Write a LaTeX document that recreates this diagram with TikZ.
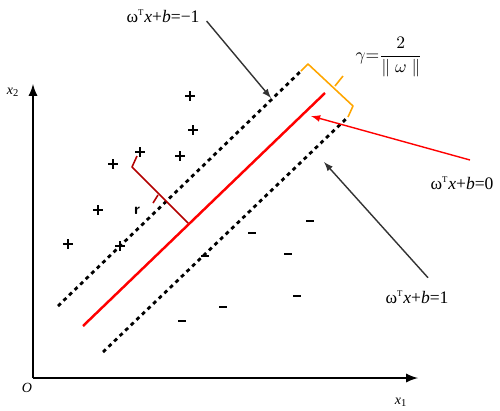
\documentclass[tikz,border=0pt]{standalone}
\usepackage{fontspec}
\setmainfont{Liberation Serif}
\begin{document}
\begin{tikzpicture}[x=0.02cm,y=-0.02cm,
  margin/.style={line width=1.6pt,dash pattern=on 2.2pt off 2.2pt},
  lbl/.style={font=\normalsize,inner sep=1pt},
  brace/.style={line width=0.9pt,line join=round}]
  \useasboundingbox (0,0) rectangle (500,410);
  % axes
  \coordinate (o) at (33,378);
  \draw[line width=1.3pt,-latex] (o) -- (418,378) coordinate (x1end);
  \draw[line width=1.3pt,-latex] (o) -- (33,84) coordinate (x2end);
  \node[lbl,font=\footnotesize] (olbl) at (27,388) {\textit{O}};
  \node[lbl,font=\footnotesize] (x2lbl) at (13,92) {\textit{x}\textsubscript{2}};
  \node[lbl,font=\footnotesize] (x1lbl) at (401,402) {\textit{x}\textsubscript{1}};
  % hyperplane and margins
  \draw[margin] (58,306) coordinate (ma) -- (301,71) coordinate (mb);
  \draw[red,line width=1.4pt] (83,326) coordinate (ha) -- (325,93) coordinate (hb);
  \draw[margin] (103,352) coordinate (pa) -- (348,117) coordinate (pb);
  % samples
  \foreach \px/\py in {190/96,193/130,140/152,180/156,113/164,98/210,68/244,120/246}
    \draw[line width=1.1pt] (\px-5,\py) -- (\px+5,\py) (\px,\py-5) -- (\px,\py+5);
  \foreach \px/\py in {310/221,252/233,288/254,205/256,297/296,223/307,182/321}
    \draw[line width=0.8pt] (\px-4,\py) -- (\px+4,\py);
  % distance r
  \draw[brace,red!70!black] (137,156) -- (132,167) -- (188,223);
  \draw[brace,red!70!black] (158,195) -- (153,203);
  \node[font=\small\bfseries\sffamily,inner sep=0pt] (rlbl) at (137,211) {r};
  % margin width
  \draw[brace,orange!70!yellow] (mb) -- (308,64) -- (353,106) -- (pb);
  \draw[brace,orange!70!yellow] (335,86) -- (343,76);
  \node[lbl] (gamma) at (389,57) {$\gamma{=}\displaystyle\frac{2}{\|\;\omega\;\|}$};
  % labels
  \node[lbl] (minus) at (163,16) {ω\textsuperscript{\tiny T}\textit{x}+\textit{b}=−1};
  \node[lbl] (zero) at (462,183) {ω\textsuperscript{\tiny T}\textit{x}+\textit{b}=0};
  \node[lbl] (one) at (417,297) {ω\textsuperscript{\tiny T}\textit{x}+\textit{b}=1};
  \coordinate (mtip) at (271,98);
  \coordinate (ztip) at (311,116);
  \coordinate (ztail) at (470,160);
  \coordinate (otip) at (324,162);
  \draw[gray!40!black,line width=0.8pt,-latex] (minus.east) ++(5,5) -- (mtip);
  \draw[red,line width=0.8pt,-latex] (ztail) -- (ztip);
  \draw[gray!40!black,line width=0.8pt,-latex] (one.north) ++(11,-11) -- (otip);
\end{tikzpicture}
\end{document}
